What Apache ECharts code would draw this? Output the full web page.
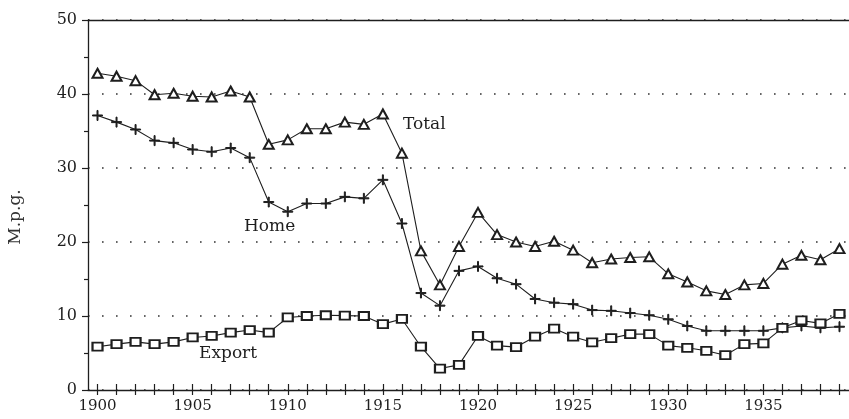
<!DOCTYPE html>
<html>
<head>
<meta charset="utf-8">
<script src="https://cdn.jsdelivr.net/npm/echarts@6/dist/echarts.min.js"></script>
<style>html,body{margin:0;padding:0;background:#fff}#c{width:849px;height:419px}</style>
</head>
<body>
<div id="c"></div>
<script>
var years = [];
for (var y = 1900; y <= 1939; y++) years.push(String(y));

var totalMpg = [42.8,42.4,41.8,39.9,40.1,39.7,39.6,40.4,39.6,33.2,
  33.8,35.3,35.3,36.2,35.9,37.3,32.0,18.8,14.2,19.4,
  24.0,21.0,20.0,19.4,20.1,18.9,17.2,17.7,17.9,18.0,
  15.7,14.6,13.4,12.9,14.2,14.4,17.0,18.2,17.6,19.1];
var homeMpg = [37.1,36.2,35.2,33.7,33.4,32.5,32.2,32.7,31.4,25.4,
  24.1,25.2,25.2,26.1,25.9,28.4,22.5,13.1,11.4,16.1,
  16.7,15.1,14.3,12.3,11.8,11.6,10.8,10.7,10.4,10.1,
  9.55,8.65,8.0,8.0,8.0,8.0,8.4,8.65,8.4,8.55];
var exportMpg = [5.85,6.2,6.5,6.2,6.5,7.1,7.3,7.75,8.1,7.75,
  9.8,10.0,10.1,10.05,10.0,8.9,9.6,5.85,2.9,3.4,
  7.3,6.0,5.8,7.2,8.3,7.2,6.45,7.0,7.55,7.55,
  6.0,5.7,5.3,4.7,6.2,6.3,8.4,9.4,9.0,10.3];

var ink = '#1e1e1e';
var serif = 'DejaVu Serif';
var plusPath = 'path://M4.5,0h1v4.5h4.5v1h-4.5v4.5h-1v-4.5h-4.5v-1h4.5z';

function mkSeries(name, data, symbol, size) {
  return {
    name: name, type: 'line', data: data, xAxisIndex: 0,
    symbol: symbol, symbolSize: size,
    lineStyle: {color: ink, width: 1.1},
    itemStyle: {color: ink, borderColor: ink, borderWidth: 1},
    emphasis: {disabled: true},
    animation: false, z: 3
  };
}

var chart = echarts.init(document.getElementById('c'));
chart.setOption({
  backgroundColor: '#fff',
  animation: false,
  grid: {left: 88, right: -4, top: 20, bottom: 29},
  xAxis: [
    {
      type: 'category', data: years, boundaryGap: true, position: 'bottom',
      axisLine: {show: true, lineStyle: {color: ink, width: 1.3}},
      axisTick: {show: true, alignWithLabel: true, interval: 0, length: 5, lineStyle: {color: ink, width: 1.2}},
      axisLabel: {interval: function (i) { return i % 5 === 0; }, margin: 9,
        fontFamily: serif, fontSize: 15, color: ink},
      splitLine: {show: false}
    },
    {
      type: 'category', data: years, boundaryGap: true, position: 'bottom',
      axisLine: {show: false},
      axisTick: {show: true, inside: true, alignWithLabel: true, interval: 0, length: 6, lineStyle: {color: ink, width: 1.2}},
      axisLabel: {show: false}, splitLine: {show: false}
    },
    {
      type: 'category', data: years, boundaryGap: true, position: 'top',
      axisLine: {show: true, lineStyle: {color: ink, width: 1.3}},
      axisTick: {show: false}, axisLabel: {show: false}, splitLine: {show: false}
    }
  ],
  yAxis: {
    type: 'value', min: 0, max: 50, interval: 10,
    axisLine: {show: true, lineStyle: {color: ink, width: 1.3}},
    axisTick: {show: true, length: 6, lineStyle: {color: ink, width: 1.2}},
    minorTick: {show: true, splitNumber: 2, length: 4, lineStyle: {color: ink, width: 1.2}},
    axisLabel: {margin: 11, fontFamily: serif, fontSize: 16, color: ink},
    splitLine: {show: true, lineStyle: {color: '#333', width: 1.6, type: [1.6, 12.4]}}
  },
  graphic: [
    {type: 'text', x: 16, y: 217, rotation: Math.PI / 2,
      style: {text: 'M.p.g.', fontFamily: serif, fontSize: 17, fill: '#333', align: 'center', verticalAlign: 'middle'}},
    {type: 'text', left: 403, top: 116, style: {text: 'Total', fontFamily: serif, fontSize: 17, fill: ink}},
    {type: 'text', left: 244, top: 218, style: {text: 'Home', fontFamily: serif, fontSize: 17, fill: ink}},
    {type: 'text', left: 199, top: 345, style: {text: 'Export', fontFamily: serif, fontSize: 17, fill: ink}}
  ],
  series: [
    mkSeries('Total', totalMpg, 'emptyTriangle', [10, 9]),
    mkSeries('Home', homeMpg, plusPath, 10),
    mkSeries('Export', exportMpg, 'emptyRect', [10, 8])
  ]
});
</script>
</body>
</html>
